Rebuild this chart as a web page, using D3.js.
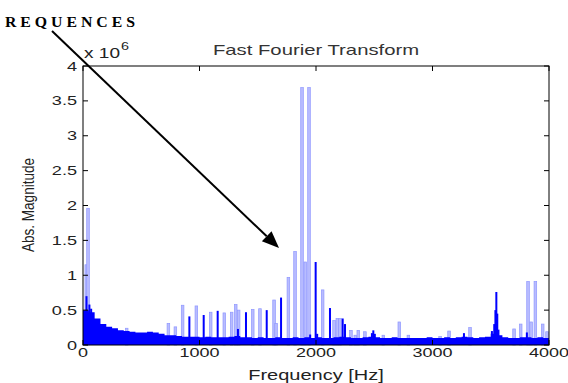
<!DOCTYPE html>
<html>
<head>
<meta charset="utf-8">
<script src="https://cdn.jsdelivr.net/npm/d3@7"></script>
<style>
  body { margin: 0; background: #fff; }
  text { font-family: "Liberation Sans", Arial, sans-serif; fill: #222; }
</style>
</head>
<body>
<svg id="chart" width="568" height="383"></svg>
<script>
// values in units of 1e6
xTicks = [0, 1000, 2000, 3000, 4000];
yTicks = [0, 0.5, 1, 1.5, 2, 2.5, 3, 3.5, 4];

// noise floor, one value per 50 Hz bin starting at 0 Hz
floorBin = 50;
floorMag = [0.50, 0.47, 0.38, 0.30, 0.26, 0.24, 0.21, 0.20, 0.19, 0.18,
            0.18, 0.19, 0.18, 0.16, 0.14, 0.14, 0.13, 0.12, 0.12, 0.12,
            0.11, 0.12, 0.11, 0.11, 0.11, 0.12, 0.13, 0.11, 0.11, 0.10,
            0.11, 0.10, 0.10, 0.11, 0.10, 0.10, 0.11, 0.10, 0.11, 0.10,
            0.11, 0.10, 0.10, 0.11, 0.12, 0.11, 0.10, 0.10, 0.11, 0.12,
            0.11, 0.10, 0.10, 0.11, 0.10, 0.10, 0.10, 0.10, 0.10, 0.11,
            0.10, 0.10, 0.11, 0.10, 0.11, 0.12, 0.11, 0.10, 0.11, 0.12,
            0.16, 0.14, 0.11, 0.10, 0.10, 0.11, 0.11, 0.10, 0.11, 0.10];

// light blue spectral lines
lightFreq = [28, 43, 375, 733, 793, 855, 973, 1096, 1213, 1276, 1311, 1336, 1457, 1519,
             1640, 1657, 1763, 1820, 1880, 1908, 1940, 2057, 2155, 2183, 2206, 2300,
             2337, 2363, 2420, 2578, 2715, 2793, 3065, 3142, 3322, 3700, 3757, 3820,
             3846, 3883, 3946, 3983];
lightMag = [1.15, 1.96, 0.24, 0.31, 0.26, 0.57, 0.56, 0.47, 0.46, 0.47, 0.58, 0.50, 0.51, 0.52,
            0.645, 0.31, 0.97, 1.34, 3.69, 1.19, 3.69, 0.79, 0.35, 0.38, 0.38, 0.21,
            0.14, 0.21, 0.19, 0.14, 0.33, 0.14, 0.12, 0.20, 0.25, 0.23, 0.30, 0.91,
            0.33, 0.91, 0.30, 0.19];

// dark blue spectral lines
darkFreq = [30, 55, 70, 913, 1036, 1156, 1330, 1399, 1577, 1700, 1950, 1997, 2010, 2120,
            2229, 2249, 2480, 2492, 2505, 3270, 3510, 3530, 3540, 3548, 3556, 3566, 3810];
darkMag = [0.70, 0.58, 0.52, 0.41, 0.43, 0.49, 0.23, 0.47, 0.50, 0.68, 0.15, 1.19, 0.16, 0.53,
           0.38, 0.30, 0.17, 0.21, 0.16, 0.17, 0.20, 0.30, 0.50, 0.76, 0.45, 0.22, 0.18];

const svg = d3.select("#chart");
const m = {left: 83, right: 549, top: 66, bottom: 345};

const x = d3.scaleLinear().domain([0, 4000]).range([m.left, m.right]);
const y = d3.scaleLinear().domain([0, 4]).range([m.bottom, m.top]);

const plot = svg.append("g");

// light lines
plot.selectAll("rect.light")
  .data(lightFreq.map((f, i) => ({f, v: lightMag[i]})))
  .enter().append("rect")
    .attr("class", "light")
    .attr("x", d => x(d.f) - 1.3)
    .attr("width", 2.6)
    .attr("y", d => y(d.v))
    .attr("height", d => y(0) - y(d.v))
    .attr("fill", "#b8bcff")
    .attr("stroke", "#8f97ff")
    .attr("stroke-width", 0.7);

// noise floor
const floorPts = floorMag.map((v, i) => ({f: i * floorBin, v}));
floorPts.push({f: 4000, v: floorMag[floorMag.length - 1]});
const area = d3.area()
  .x(d => x(d.f))
  .y0(y(0))
  .y1(d => y(d.v))
  .curve(d3.curveStepAfter);
plot.append("path")
  .datum(floorPts)
  .attr("d", area)
  .attr("fill", "#0000ff");

// dark lines
plot.selectAll("rect.dark")
  .data(darkFreq.map((f, i) => ({f, v: darkMag[i]})))
  .enter().append("rect")
    .attr("class", "dark")
    .attr("x", d => x(d.f) - 1)
    .attr("width", 2)
    .attr("y", d => y(d.v))
    .attr("height", d => y(0) - y(d.v))
    .attr("fill", "#0000ff");

// axes (MATLAB box, inward ticks)
const tl = 5;
const box = svg.append("g").attr("stroke", "#000").attr("stroke-width", 1);
box.append("rect")
  .attr("x", m.left).attr("y", m.top)
  .attr("width", m.right - m.left).attr("height", m.bottom - m.top)
  .attr("fill", "none");
xTicks.forEach(t => {
  box.append("line").attr("x1", x(t)).attr("x2", x(t)).attr("y1", m.bottom).attr("y2", m.bottom - tl);
  box.append("line").attr("x1", x(t)).attr("x2", x(t)).attr("y1", m.top).attr("y2", m.top + tl);
});
yTicks.forEach(t => {
  box.append("line").attr("y1", y(t)).attr("y2", y(t)).attr("x1", m.left).attr("x2", m.left + tl);
  box.append("line").attr("y1", y(t)).attr("y2", y(t)).attr("x1", m.right).attr("x2", m.right - tl);
});

function stretched(tx, ty, str, size, sx, anchor) {
  return svg.append("text")
    .attr("transform", `translate(${tx},${ty}) scale(${sx},1)`)
    .attr("text-anchor", anchor)
    .style("font-size", size + "px")
    .text(str);
}

xTicks.forEach(t => stretched(x(t), 357, String(t), 12, 1.5, "middle"));
yTicks.forEach(t => stretched(77, y(t) + 4.5, String(t), 12.5, 1.45, "end"));

stretched((m.left + m.right) / 2, 55, "Fast Fourier Transform", 14, 1.45, "middle").style("fill", "#333");
stretched((m.left + m.right) / 2, 380, "Frequency [Hz]", 14, 1.43, "middle");

svg.append("text")
  .attr("transform", "translate(34,205) scale(1.3,1) rotate(-90)")
  .attr("text-anchor", "middle")
  .attr("textLength", 94)
  .attr("lengthAdjust", "spacingAndGlyphs")
  .style("font-size", "13px")
  .text("Abs. Magnitude");

svg.append("text")
  .attr("x", 84).attr("y", 58)
  .attr("textLength", 36).attr("lengthAdjust", "spacingAndGlyphs")
  .style("font-size", "14px")
  .text("x 10");
svg.append("text")
  .attr("x", 121).attr("y", 50)
  .attr("textLength", 8).attr("lengthAdjust", "spacingAndGlyphs")
  .style("font-size", "10px")
  .text("6");

// annotation
svg.append("text")
  .attr("x", 5).attr("y", 27)
  .attr("textLength", 130).attr("lengthAdjust", "spacingAndGlyphs")
  .style("font-family", "'Liberation Serif', 'Times New Roman', serif")
  .style("font-weight", "bold")
  .style("font-size", "15px")
  .style("fill", "#000")
  .text("R E Q U E N C E S");

const x0 = 52, y0 = 31, x1 = 279, y1 = 248;
const ang = Math.atan2(y1 - y0, x1 - x0);
const hl = 17, hw = 7;
const bx = x1 - hl * Math.cos(ang), by = y1 - hl * Math.sin(ang);
svg.append("line")
  .attr("x1", x0).attr("y1", y0).attr("x2", bx).attr("y2", by)
  .attr("stroke", "#000").attr("stroke-width", 2);
svg.append("path")
  .attr("d", `M${x1},${y1} L${bx + hw * Math.sin(ang)},${by - hw * Math.cos(ang)} L${bx - hw * Math.sin(ang)},${by + hw * Math.cos(ang)} Z`)
  .attr("fill", "#000");
</script>
</body>
</html>
